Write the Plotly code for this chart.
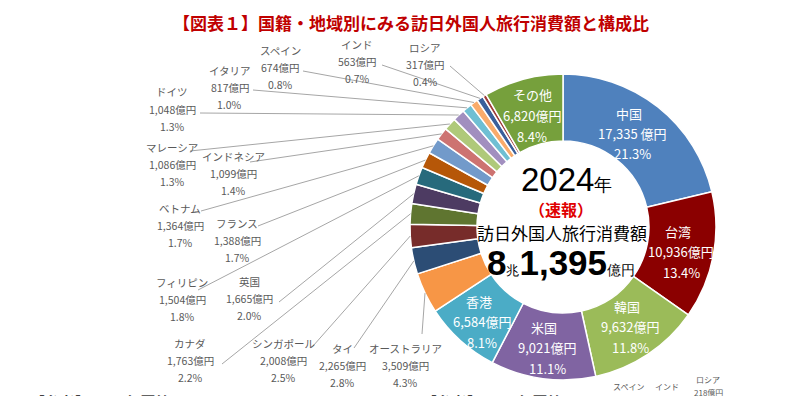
import math
import plotly.graph_objects as go

# ---- data ----
countries = ["中国", "台湾", "韓国", "米国", "香港", "オーストラリア", "タイ", "シンガポール",
             "カナダ", "英国", "フィリピン", "フランス", "ベトナム", "インドネシア", "マレーシア",
             "ドイツ", "イタリア", "スペイン", "インド", "ロシア", "その他"]
amounts = [17335, 10936, 9632, 9021, 6584, 3509, 2265, 2008, 1763, 1665, 1504, 1388,
           1364, 1099, 1086, 1048, 817, 674, 563, 317, 6820]
shares = [21.3, 13.4, 11.8, 11.1, 8.1, 4.3, 2.8, 2.5, 2.2, 2.0, 1.8, 1.7, 1.7, 1.4,
          1.3, 1.3, 1.0, 0.8, 0.7, 0.4, 8.4]
colors = ["#4F81BD", "#8B0000", "#9BBB59", "#8064A2", "#4BACC6", "#F79646", "#2C4D75",
          "#772C2A", "#5F7530", "#4D3B62", "#276A7C", "#B65708", "#729ACA", "#CD7371",
          "#AFC97A", "#A18FBF", "#6FBFD3", "#F9AB6B", "#3A5F9B", "#9E3B38", "#76A03C"]

title = "【図表１】国籍・地域別にみる訪日外国人旅行消費額と構成比"
year_text = "2024"
total_oku = "1,395"
total_cho = "8"
note_2023 = "【参考】2023年国籍"
note_2019 = "【参考】2019年国籍"
mini_labels = ["スペイン", "インド", "ロシア", "218億円"]

W, H = 800, 396
CX, CY, R, R_IN = 563, 227, 153, 86

# layout: label positions (pixel, name line center), leader-line start points
inside_pos = {"中国": (629, 113), "台湾": (678, 231), "韓国": (627, 306),
              "米国": (544, 327), "香港": (479, 301), "その他": (532, 95)}
outside_pos = {
    "ロシア": (425, 47, (450, 66)), "インド": (357, 44, (382, 65)),
    "スペイン": (280, 50, (303, 71)), "イタリア": (230, 70, (253, 90)),
    "ドイツ": (172, 92, (200, 113)), "マレーシア": (172, 147, (190, 151)),
    "インドネシア": (233, 156, (250, 162)), "ベトナム": (180, 208, (201, 211)),
    "フランス": (237, 223, (258, 226)), "フィリピン": (182, 282, (198, 290)),
    "英国": (249, 281, (279, 302)), "カナダ": (190, 343, (222, 364)),
    "シンガポール": (283, 343, (313, 346)), "タイ": (342, 348, (354, 348)),
    "オーストラリア": (405, 348, (422, 334)),
}
mini_pos = [(628, 386), (667, 386), (708, 379), (708, 392)]

def px(x, y):
    return x / W, 1 - y / H

FONT = "Noto Sans CJK JP"
GRAY = "#595959"

fig = go.Figure()
x0, y1 = px(CX - R, CY - R)
x1, y0 = px(CX + R, CY + R)
fig.add_trace(go.Pie(
    labels=countries, values=amounts, sort=False, direction="clockwise", rotation=0,
    hole=R_IN / R, marker=dict(colors=colors, line=dict(color="white", width=1.5)),
    textinfo="none", hoverinfo="label+value+percent", showlegend=False,
    domain=dict(x=[x0, x1], y=[y0, y1]),
))

annotations = []
shapes = []

def add_text(x, y, text, size, color, bold=False, yanchor="middle"):
    ax, ay = px(x, y)
    annotations.append(dict(x=ax, y=ay, xref="paper", yref="paper", text=(f"<b>{text}</b>" if bold else text),
                            showarrow=False, font=dict(family=FONT, size=size, color=color),
                            xanchor="center", yanchor=yanchor))

total = sum(amounts)
cum = 0
for name, amt, sh in zip(countries, amounts, shares):
    mid = (cum + amt / 2) / total * 2 * math.pi
    cum += amt
    amt_txt = f"{amt:,}億円"
    if name in inside_pos:
        x, y = inside_pos[name]
        if name == "中国":
            amt_txt = f"{amt:,} 億円"
        dx = 0 if name == "その他" else 3
        add_text(x, y, name, 13, "white")
        add_text(x + dx, y + 20.5, amt_txt, 13, "white")
        add_text(x + dx, y + 41, f"{sh:.1f}%", 13, "white")
    else:
        x, y, (sx, sy) = outside_pos[name]
        add_text(x, y, name, 10.5, GRAY)
        add_text(x, y + 17.3, amt_txt, 10.5, GRAY)
        add_text(x, y + 34.6, f"{sh:.1f}%", 10.5, GRAY)
        ex = CX + R * math.sin(mid)
        ey = CY - R * math.cos(mid)
        a, b = px(sx, sy)
        c, d = px(ex, ey)
        shapes.append(dict(type="line", xref="paper", yref="paper", x0=a, y0=b, x1=c, y1=d,
                           line=dict(color="#A6A6A6", width=1)))

# title
tx, ty = px(411, 23)
annotations.append(dict(x=tx, y=ty, xref="paper", yref="paper", showarrow=False,
                        text=f"<b>{title}</b>", font=dict(family=FONT, size=17, color="#C00000"),
                        xanchor="center", yanchor="middle"))

# center texts
cx_, cy_ = px(566, 179)
annotations.append(dict(x=cx_, y=cy_, xref="paper", yref="paper", showarrow=False,
                        text=f"{year_text}<span style='font-size:18px'>年</span>",
                        font=dict(family="Liberation Sans", size=33, color="black"),
                        xanchor="center", yanchor="middle"))
add_text(561, 209, "（速報）", 16, "#E00000", bold=True)
add_text(562, 233, "訪日外国人旅行消費額", 17, "black")
bx, by = px(561, 262)
annotations.append(dict(x=bx, y=by, xref="paper", yref="paper", showarrow=False,
                        text=(f"<b>{total_cho}</b><span style='font-size:13px'>兆</span>"
                              f"<b>{total_oku}</b><span style='font-size:14px'>億円</span>"),
                        font=dict(family="Liberation Sans", size=35, color="black"),
                        xanchor="center", yanchor="middle"))

# clipped bottom notes
add_text(100, 389, note_2023, 15, "#404040", bold=True, yanchor="top")
add_text(492, 389, note_2019, 15, "#404040", bold=True, yanchor="top")
for t, (mx, my) in zip(mini_labels, mini_pos):
    add_text(mx, my, t, 8, GRAY)

fig.update_layout(
    width=W, height=H, margin=dict(l=0, r=0, t=0, b=0),
    paper_bgcolor="white", plot_bgcolor="white",
    annotations=annotations, shapes=shapes,
)
fig.write_html("out.html", config={"displayModeBar": False},
               post_script="document.body.style.margin='0';")
